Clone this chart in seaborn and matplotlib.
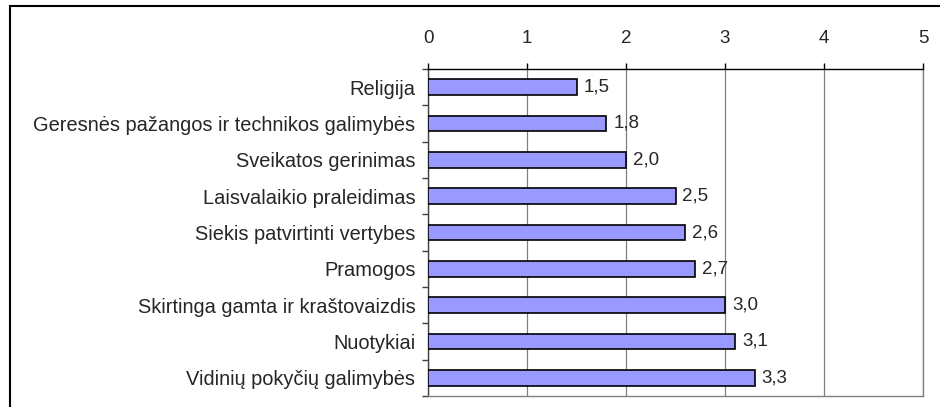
import matplotlib
matplotlib.use("Agg")
import matplotlib.pyplot as plt
from matplotlib.patches import Rectangle
import seaborn as sns
import pandas as pd
import numpy as np

categories = [
    "Religija",
    "Geresnės pažangos ir technikos galimybės",
    "Sveikatos gerinimas",
    "Laisvalaikio praleidimas",
    "Siekis patvirtinti vertybes",
    "Pramogos",
    "Skirtinga gamta ir kraštovaizdis",
    "Nuotykiai",
    "Vidinių pokyčių galimybės",
]
values = [1.5, 1.8, 2.0, 2.5, 2.6, 2.7, 3.0, 3.1, 3.3]
x_ticks = [0, 1, 2, 3, 4, 5]

df = pd.DataFrame({"motyvas": categories, "vidurkis": values})

sns.set_style("white")
plt.rcParams["font.family"] = ["Liberation Sans", "DejaVu Sans"]

fig = plt.figure(figsize=(9.4, 4.07), dpi=100)
ax = fig.add_axes([428 / 940, 1 - 396 / 407, (923 - 428) / 940, (396 - 69) / 407])

sns.barplot(data=df, x="vidurkis", y="motyvas", order=categories, orient="h",
            color="#9999FF", saturation=1, width=0.44, edgecolor="black",
            linewidth=1.2, ax=ax, zorder=3)

ax.set_xlim(0, 5)
ax.set_ylim(len(categories) - 0.5, -0.5)
ax.set_xticks(x_ticks)
ax.set_xticklabels([str(t) for t in x_ticks])
ax.xaxis.tick_top()
ax.tick_params(axis="x", which="major", top=True, bottom=False, direction="out",
               length=4.5, width=1, color="black", labelsize=13.5, pad=11)
ax.grid(axis="x", color="#808080", linewidth=0.9, zorder=0)
ax.set_axisbelow(True)

# category boundaries get the tick marks, labels stay centred on the bars
ax.set_yticks(np.arange(len(categories)))
ax.set_yticks(np.arange(-0.5, len(categories), 1.0), minor=True)
ax.tick_params(axis="y", which="major", length=0, labelsize=14.4, pad=9)
ax.tick_params(axis="y", which="minor", left=True, direction="out", length=4.5,
               width=1, color="#404040")

ax.set_xlabel("")
ax.set_ylabel("")

ax.spines["top"].set_color("black")
ax.spines["left"].set_color("#404040")
ax.spines["right"].set_color("#808080")
ax.spines["bottom"].set_color("#808080")
for s in ax.spines.values():
    s.set_linewidth(1.0)

for i, v in enumerate(values):
    ax.annotate(f"{v:.1f}".replace(".", ","), xy=(v, i), xytext=(5, 0),
                textcoords="offset points", va="center", ha="left", fontsize=13.5)

# outer chart frame
fig.patches.append(Rectangle((10 / 940, -0.1), 1.0, 1 - 6 / 407 + 0.1,
                             transform=fig.transFigure, fill=False,
                             edgecolor="black", linewidth=1.5, zorder=0))

fig.savefig("out.png", dpi=100)
